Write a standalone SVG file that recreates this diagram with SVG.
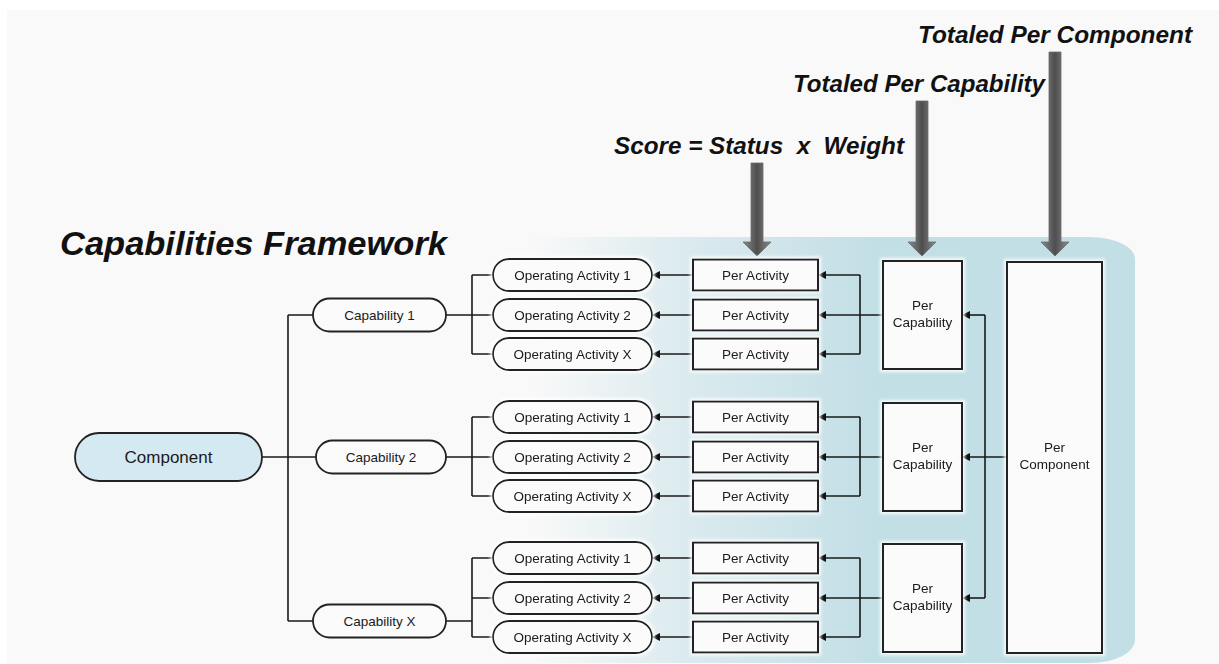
<svg xmlns="http://www.w3.org/2000/svg" width="1219" height="664" viewBox="0 0 1219 664">
  <defs>
    <linearGradient id="panelGrad" gradientUnits="userSpaceOnUse" x1="530" y1="0" x2="870" y2="0">
      <stop offset="0" stop-color="#c3dfe6" stop-opacity="0"/>
      <stop offset="0.45" stop-color="#c3dfe6" stop-opacity="0.55"/>
      <stop offset="1" stop-color="#c3dfe6" stop-opacity="1"/>
    </linearGradient>
    <linearGradient id="shaftGrad" x1="0" y1="0" x2="1" y2="0">
      <stop offset="0" stop-color="#8c8c8c"/>
      <stop offset="0.5" stop-color="#4e4e4e"/>
      <stop offset="1" stop-color="#8c8c8c"/>
    </linearGradient>
    <marker id="arr" viewBox="0 0 10 10" refX="10" refY="5" markerWidth="10" markerHeight="8" markerUnits="userSpaceOnUse" orient="auto">
      <path d="M0,0 L10,5 L0,10 z" fill="#111"/>
    </marker>
    <filter id="glow" x="-20%" y="-20%" width="140%" height="140%">
      <feMorphology in="SourceAlpha" operator="dilate" radius="2" result="d"/>
      <feGaussianBlur in="d" stdDeviation="1.5" result="b"/>
      <feFlood flood-color="#ffffff" flood-opacity="0.85"/>
      <feComposite in2="b" operator="in" result="g"/>
      <feMerge><feMergeNode in="g"/><feMergeNode in="SourceGraphic"/></feMerge>
    </filter>
  </defs>
  <style>
    .pill { fill: #fbfbfb; stroke: #222; stroke-width: 1.8; }
    .box { fill: #fbfbfb; stroke: #222; stroke-width: 2; }
    .t { font-family: "Liberation Sans", Arial, sans-serif; font-size: 13.5px; fill: #1a1a1a; text-anchor: middle; }
    .big { font-family: "Liberation Sans", Arial, sans-serif; font-weight: bold; font-style: italic; fill: #111; }
    .ln { fill: none; stroke: #1a1a1a; stroke-width: 1.6; }
    .ar { fill: none; stroke: #1a1a1a; stroke-width: 1.6; marker-end: url(#arr); }
    .bigarrow { fill: url(#shaftGrad); stroke: #6a6a6a; stroke-width: 0.8; }
  </style>

  <rect x="0" y="0" width="1219" height="664" fill="#ffffff"/>
  <rect x="7" y="10" width="1212" height="654" fill="#f9f9f9"/>

  <!-- blue panel -->
  <path id="panel" d="M530,237 H1090 A45,22 0 0 1 1135,259 V640 A45,23 0 0 1 1090,663 H530 Z" fill="url(#panelGrad)"/>

  <!-- titles -->
  <text class="big" x="60" y="255" style="font-size:34px" textLength="387" lengthAdjust="spacingAndGlyphs">Capabilities Framework</text>
  <text class="big" x="918" y="43" style="font-size:24px" textLength="274" lengthAdjust="spacingAndGlyphs">Totaled Per Component</text>
  <text class="big" x="793" y="92" style="font-size:24px" textLength="252" lengthAdjust="spacingAndGlyphs">Totaled Per Capability</text>
  <text class="big" x="614" y="154" style="font-size:24px" textLength="290" lengthAdjust="spacingAndGlyphs" xml:space="preserve">Score = Status  x  Weight</text>

  <!-- big arrows -->
  <g id="big-arrows">
    <polygon class="bigarrow" points="751,163 763,163 763,242 771,242 757,256 743,242 751,242"/>
    <polygon class="bigarrow" points="916,101 928,101 928,242 936,242 922,256 908,242 916,242"/>
    <polygon class="bigarrow" points="1049,52 1061,52 1061,242 1069,242 1055,256 1041,242 1049,242"/>
  </g>

  <!-- connectors -->
  <g id="connectors">
    <path class="ln" d="M262,457 H316"/>
    <path class="ln" d="M288,315 V621 M288,315 H313 M288,621 H313"/>
    <path class="ln" d="M446,315 H472 M472,275 V354 M472,275 H493 M472,315 H493 M472,354 H493"/>
    <path class="ar" d="M693,275 H652"/>
    <path class="ar" d="M693,315 H652"/>
    <path class="ar" d="M693,354 H652"/>
    <path class="ln" d="M883,315 H860 M860,275 V354"/>
    <path class="ar" d="M860,275 H818"/>
    <path class="ar" d="M860,315 H818"/>
    <path class="ar" d="M860,354 H818"/>
    <path class="ln" d="M446,457 H472 M472,417 V496 M472,417 H493 M472,457 H493 M472,496 H493"/>
    <path class="ar" d="M693,417 H652"/>
    <path class="ar" d="M693,457 H652"/>
    <path class="ar" d="M693,496 H652"/>
    <path class="ln" d="M883,457 H860 M860,417 V496"/>
    <path class="ar" d="M860,417 H818"/>
    <path class="ar" d="M860,457 H818"/>
    <path class="ar" d="M860,496 H818"/>
    <path class="ln" d="M446,621 H472 M472,558 V637 M472,558 H493 M472,598 H493 M472,637 H493"/>
    <path class="ar" d="M693,558 H652"/>
    <path class="ar" d="M693,598 H652"/>
    <path class="ar" d="M693,637 H652"/>
    <path class="ln" d="M883,598 H860 M860,558 V637"/>
    <path class="ar" d="M860,558 H818"/>
    <path class="ar" d="M860,598 H818"/>
    <path class="ar" d="M860,637 H818"/>
    <path class="ar" d="M1007,457 H962"/>
    <path class="ln" d="M985,315 V598"/>
    <path class="ar" d="M985,315 H962"/>
    <path class="ar" d="M985,598 H962"/>
  </g>

  <!-- nodes -->
  <g id="component">
    <rect x="75" y="433" width="187" height="48" rx="24" fill="#d5e9f3" stroke="#222" stroke-width="1.8"/>
    <text class="t" x="168.5" y="463" style="font-size:17px">Component</text>
  </g>

  <g id="capability-1"><rect class="pill" x="313" y="298.5" width="133" height="33" rx="16.5"/><text class="t" x="379.5" y="320">Capability 1</text></g>
  <g id="capability-2"><rect class="pill" x="316" y="440.5" width="130" height="33" rx="16.5"/><text class="t" x="381" y="462">Capability 2</text></g>
  <g id="capability-x"><rect class="pill" x="313" y="604.5" width="133" height="33" rx="16.5"/><text class="t" x="379.5" y="626">Capability X</text></g>

  <g filter="url(#glow)">
    <g id="op-1-1"><rect class="pill" x="493" y="259" width="159" height="32" rx="16"/><text class="t" x="572.5" y="279.5">Operating Activity 1</text></g>
    <g id="op-1-2"><rect class="pill" x="493" y="299" width="159" height="32" rx="16"/><text class="t" x="572.5" y="319.5">Operating Activity 2</text></g>
    <g id="op-1-x"><rect class="pill" x="493" y="338" width="159" height="32" rx="16"/><text class="t" x="572.5" y="358.5">Operating Activity X</text></g>
    <g id="pa-1-1"><rect class="box" x="693" y="259.5" width="125" height="31"/><text class="t" x="755.5" y="279.5">Per Activity</text></g>
    <g id="pa-1-2"><rect class="box" x="693" y="299.5" width="125" height="31"/><text class="t" x="755.5" y="319.5">Per Activity</text></g>
    <g id="pa-1-x"><rect class="box" x="693" y="338.5" width="125" height="31"/><text class="t" x="755.5" y="358.5">Per Activity</text></g>
    <g id="pc-1"><rect class="box" x="883" y="261" width="79" height="108"/><text class="t" x="922.5" y="310">Per</text><text class="t" x="922.5" y="327">Capability</text></g>

    <g id="op-2-1"><rect class="pill" x="493" y="401" width="159" height="32" rx="16"/><text class="t" x="572.5" y="421.5">Operating Activity 1</text></g>
    <g id="op-2-2"><rect class="pill" x="493" y="441" width="159" height="32" rx="16"/><text class="t" x="572.5" y="461.5">Operating Activity 2</text></g>
    <g id="op-2-x"><rect class="pill" x="493" y="480" width="159" height="32" rx="16"/><text class="t" x="572.5" y="500.5">Operating Activity X</text></g>
    <g id="pa-2-1"><rect class="box" x="693" y="401.5" width="125" height="31"/><text class="t" x="755.5" y="421.5">Per Activity</text></g>
    <g id="pa-2-2"><rect class="box" x="693" y="441.5" width="125" height="31"/><text class="t" x="755.5" y="461.5">Per Activity</text></g>
    <g id="pa-2-x"><rect class="box" x="693" y="480.5" width="125" height="31"/><text class="t" x="755.5" y="500.5">Per Activity</text></g>
    <g id="pc-2"><rect class="box" x="883" y="403" width="79" height="108"/><text class="t" x="922.5" y="452">Per</text><text class="t" x="922.5" y="469">Capability</text></g>

    <g id="op-3-1"><rect class="pill" x="493" y="542" width="159" height="32" rx="16"/><text class="t" x="572.5" y="562.5">Operating Activity 1</text></g>
    <g id="op-3-2"><rect class="pill" x="493" y="582" width="159" height="32" rx="16"/><text class="t" x="572.5" y="602.5">Operating Activity 2</text></g>
    <g id="op-3-x"><rect class="pill" x="493" y="621" width="159" height="32" rx="16"/><text class="t" x="572.5" y="641.5">Operating Activity X</text></g>
    <g id="pa-3-1"><rect class="box" x="693" y="542.5" width="125" height="31"/><text class="t" x="755.5" y="562.5">Per Activity</text></g>
    <g id="pa-3-2"><rect class="box" x="693" y="582.5" width="125" height="31"/><text class="t" x="755.5" y="602.5">Per Activity</text></g>
    <g id="pa-3-x"><rect class="box" x="693" y="621.5" width="125" height="31"/><text class="t" x="755.5" y="641.5">Per Activity</text></g>
    <g id="pc-3"><rect class="box" x="883" y="544" width="79" height="108"/><text class="t" x="922.5" y="593">Per</text><text class="t" x="922.5" y="610">Capability</text></g>

    <g id="per-component"><rect class="box" x="1007" y="262" width="95" height="391"/><text class="t" x="1054.5" y="452">Per</text><text class="t" x="1054.5" y="469">Component</text></g>
  </g>
</svg>
